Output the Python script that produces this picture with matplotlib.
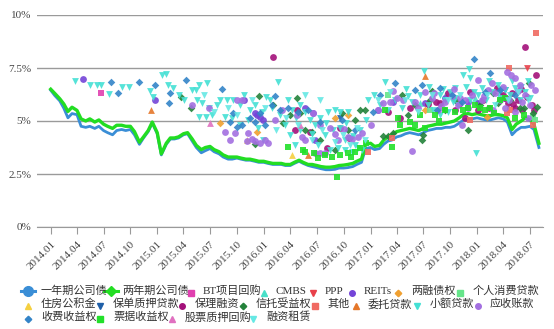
import matplotlib.pyplot as plt
from matplotlib.lines import Line2D
import pandas as pd

plt.rcParams['font.family'] = ['Liberation Serif', 'Noto Sans CJK SC']

# 公司债收益率 (%), 每半月一个值
bond_dates = pd.date_range('2014-01-01', periods=111, freq='SMS')
bond_1y = [
    6.45, 6.2, 5.95, 5.6, 5.15, 5.35, 5.3, 4.75, 4.7, 4.75, 4.65, 4.75,
    4.55, 4.45, 4.35, 4.55, 4.6, 4.55, 4.6, 4.35, 3.9, 4.2, 4.5, 4.9,
    4.4, 3.4, 3.9, 4.15, 4.15, 4.2, 4.35, 4.4, 4.05, 3.75, 3.5, 3.6,
    3.7, 3.55, 3.45, 3.3, 3.2, 3.2, 3.25, 3.2, 3.15, 3.15, 3.1, 3.05,
    3.05, 3.0, 2.95, 2.95, 2.95, 2.9, 2.9, 3.0, 3.1, 3.0, 2.9, 2.85,
    2.8, 2.75, 2.7, 2.7, 2.72, 2.78, 2.78, 2.8, 2.85, 2.95, 3.05, 3.7,
    3.75, 3.65, 3.7, 3.9, 4.05, 4.1, 4.25, 4.3, 4.4, 4.45, 4.4, 4.35,
    4.45, 4.55, 4.6, 4.65, 4.65, 4.7, 4.7, 4.75, 4.9, 5.05, 5.1, 5.1,
    5.15, 5.1, 5.05, 5.05, 5.1, 5.15, 5.1, 4.95, 4.35, 4.55, 4.7, 4.7,
    4.75, 4.6, 3.75,
]
bond_2y = [
    6.5, 6.3, 6.05, 5.8, 5.45, 5.65, 5.5, 5.1, 5.0, 5.1, 4.95, 5.05,
    4.85, 4.75, 4.65, 4.8, 4.8, 4.75, 4.75, 4.5, 4.0, 4.25, 4.55, 4.95,
    4.45, 3.45, 3.95, 4.2, 4.2, 4.25, 4.4, 4.45, 4.15, 3.85, 3.65, 3.75,
    3.8, 3.65, 3.55, 3.4, 3.3, 3.3, 3.3, 3.25, 3.2, 3.2, 3.15, 3.1,
    3.1, 3.05, 3.0, 3.0, 3.0, 2.95, 2.95, 3.05, 3.15, 3.05, 2.95, 2.95,
    2.9, 2.85, 2.82, 2.82, 2.85, 2.9, 2.92, 2.95, 3.0, 3.1, 3.2, 3.9,
    3.95, 3.8, 3.85, 4.1, 4.25, 4.35, 4.5, 4.55, 4.6, 4.65, 4.6, 4.55,
    4.65, 4.75, 4.8, 4.85, 4.85, 4.9, 4.95, 5.0, 5.15, 5.3, 5.35, 5.3,
    5.35, 5.3, 5.25, 5.25, 5.3, 5.3, 5.25, 5.15, 4.6, 4.85, 5.0, 5.15,
    5.05, 4.85, 3.95,
]

# 横轴刻度 (每季度)
tick_dates = pd.date_range('2014-01-01', '2018-07-01', freq='QS')
tick_labels = [d.strftime('%Y.%m') for d in tick_dates]

# 各类ABS发行利率 (发行日, %)
bt_repo = [('2014-06-24', 6.32)]
cmbs = [('2017-06-19', 5.85), ('2017-09-13', 6.23), ('2017-12-25', 6.08),
        ('2018-03-20', 6.37)]
ppp = [('2018-06-21', 7.50)]
reits = [
    ('2014-04-23', 6.98), ('2014-12-25', 5.99), ('2015-10-27', 5.99),
    ('2015-12-08', 5.28), ('2015-12-18', 5.19), ('2015-12-01', 5.38),
    ('2015-12-29', 5.05), ('2016-06-17', 5.38), ('2016-05-20', 5.61),
    ('2016-06-24', 4.10), ('2017-01-25', 5.52), ('2017-03-20', 5.90),
    ('2017-07-06', 5.85), ('2017-09-13', 6.08), ('2017-12-01', 5.90),
    ('2018-01-05', 5.85), ('2018-04-10', 6.08),
]
margin_debt = [
    ('2015-08-03', 4.91), ('2015-12-08', 4.48), ('2016-10-15', 5.28),
    ('2016-09-01', 5.14), ('2017-07-06', 5.52), ('2018-02-05', 5.19),
]
consumer_loan = [('2017-03-01', 6.23), ('2017-07-23', 5.52),
                 ('2018-07-11', 5.19), ('2018-07-18', 5.05)]
housing_fund = [('2015-11-04', 4.10), ('2016-04-06', 3.40)]
policy_loan = [('2016-09-18', 5.14), ('2018-04-06', 6.46)]
factoring = [
    ('2016-02-01', 8.02), ('2016-04-23', 5.52), ('2016-06-07', 4.48),
    ('2016-08-04', 3.73), ('2016-04-16', 4.58), ('2016-09-18', 4.67),
    ('2016-10-20', 4.20), ('2017-03-01', 5.42), ('2017-04-11', 5.14),
    ('2017-05-15', 5.61), ('2017-07-16', 5.80), ('2017-08-15', 5.90),
    ('2017-08-27', 5.85), ('2017-09-25', 6.30), ('2017-10-18', 5.52),
    ('2017-11-01', 5.80), ('2017-11-21', 5.14), ('2017-12-08', 6.37),
    ('2018-01-05', 5.52), ('2018-01-20', 6.00), ('2018-02-10', 5.60),
    ('2018-03-10', 6.56), ('2018-03-30', 6.23), ('2018-04-05', 6.10),
    ('2018-04-17', 5.85), ('2018-05-01', 6.32), ('2018-05-05', 5.80),
    ('2018-05-21', 5.99), ('2018-06-01', 6.50), ('2018-06-04', 5.52),
    ('2018-06-21', 6.13), ('2018-07-08', 5.75), ('2018-07-15', 5.50),
    ('2018-07-22', 7.17), ('2018-06-14', 8.49), ('2018-05-11', 5.61),
]
trust = [
    ('2015-04-28', 5.61), ('2015-03-25', 6.13), ('2015-12-01', 3.92),
    ('2015-12-15', 6.18), ('2016-02-01', 5.75), ('2016-04-23', 6.08),
    ('2016-03-30', 5.28), ('2016-05-03', 5.38), ('2016-05-23', 4.58),
    ('2016-06-14', 4.48), ('2016-07-11', 4.10), ('2016-09-01', 3.63),
    ('2016-09-25', 5.38), ('2016-10-15', 4.58), ('2016-11-08', 5.05),
    ('2016-11-26', 5.52), ('2016-12-13', 5.52), ('2017-02-11', 4.29),
    ('2017-03-03', 4.29), ('2017-03-20', 4.43), ('2017-04-18', 6.23),
    ('2017-05-10', 5.30), ('2017-06-02', 5.75), ('2017-06-26', 4.10),
    ('2017-06-29', 4.34), ('2017-07-23', 5.99), ('2017-08-01', 6.40),
    ('2017-09-13', 5.52), ('2017-10-18', 5.99), ('2017-12-01', 4.58),
    ('2018-01-12', 5.75), ('2018-02-25', 6.30), ('2018-03-14', 5.85),
    ('2018-04-24', 5.99), ('2018-05-28', 5.61), ('2018-06-10', 5.60),
    ('2018-06-27', 6.79), ('2018-07-25', 5.66), ('2018-07-11', 5.38),
    ('2016-03-06', 4.91),
]
others = [
    ('2016-12-24', 3.54), ('2017-03-15', 4.20), ('2018-04-20', 7.50),
    ('2018-07-22', 9.15), ('2018-04-14', 5.38), ('2018-04-24', 5.52),
    ('2018-07-11', 4.81), ('2017-12-08', 5.05),
]
entrusted_loan = [('2014-12-09', 5.52), ('2016-06-01', 3.40),
                  ('2017-07-06', 7.12)]
micro_loan = [
    ('2014-03-26', 6.89), ('2014-05-17', 6.70), ('2014-06-10', 6.70),
    ('2014-06-24', 6.70), ('2014-07-21', 6.27), ('2014-09-01', 6.60),
    ('2014-09-26', 6.60), ('2014-12-06', 6.42), ('2014-12-16', 6.13),
    ('2015-01-17', 7.17), ('2015-01-31', 7.22), ('2015-02-07', 6.70),
    ('2015-02-24', 6.56), ('2015-03-18', 6.23), ('2015-04-04', 5.99),
    ('2015-05-01', 6.46), ('2015-05-15', 6.46), ('2015-05-25', 6.70),
    ('2015-06-22', 6.79), ('2015-05-18', 5.99), ('2015-06-04', 5.85),
    ('2015-05-25', 5.19), ('2015-06-18', 5.19), ('2015-07-09', 5.28),
    ('2015-06-29', 5.61), ('2015-07-26', 5.75), ('2015-08-03', 5.99),
    ('2015-08-27', 5.99), ('2015-09-16', 5.99), ('2015-08-20', 5.19),
    ('2015-09-13', 5.14), ('2015-10-10', 5.75), ('2015-10-27', 6.23),
    ('2015-11-14', 5.52), ('2015-12-01', 5.75), ('2015-12-25', 5.42),
    ('2016-01-08', 6.13), ('2016-01-22', 5.99), ('2016-02-18', 6.84),
    ('2015-10-10', 4.81), ('2015-11-07', 5.05), ('2015-12-11', 4.67),
    ('2015-12-29', 4.10), ('2016-01-29', 5.61), ('2016-02-25', 5.28),
    ('2016-03-13', 4.81), ('2016-03-23', 5.99), ('2016-04-06', 5.52),
    ('2016-04-20', 5.14), ('2016-05-03', 5.75), ('2016-05-20', 5.42),
    ('2016-05-03', 4.58), ('2016-06-07', 5.05), ('2016-06-24', 4.81),
    ('2016-06-15', 4.40), ('2016-07-11', 5.14), ('2016-08-01', 4.90),
    ('2016-08-08', 5.42), ('2016-09-01', 5.52), ('2016-09-18', 5.42),
    ('2016-10-10', 4.90), ('2016-10-15', 5.42), ('2016-07-28', 4.34),
    ('2016-08-25', 4.58), ('2016-09-18', 4.67), ('2016-10-05', 4.10),
    ('2016-10-22', 4.20), ('2016-11-01', 4.30), ('2016-11-08', 3.87),
    ('2016-11-26', 4.58), ('2016-12-03', 3.63), ('2016-07-04', 3.87),
    ('2016-08-15', 3.63), ('2016-09-11', 3.73), ('2016-10-05', 3.63),
    ('2016-10-29', 3.54), ('2016-11-19', 3.73), ('2016-03-30', 4.34),
    ('2016-04-16', 3.87), ('2016-12-17', 5.05), ('2016-12-24', 5.99),
    ('2017-01-14', 6.23), ('2017-02-18', 6.84), ('2017-02-04', 5.75),
    ('2017-03-03', 5.52), ('2017-03-25', 5.99), ('2017-04-18', 5.61),
    ('2017-05-01', 6.50), ('2017-05-08', 6.18), ('2017-05-22', 5.90),
    ('2017-06-19', 6.23), ('2017-07-02', 7.36), ('2017-07-16', 5.75),
    ('2017-07-20', 6.60), ('2017-08-03', 5.52), ('2017-08-27', 6.23),
    ('2017-09-05', 6.50), ('2017-09-13', 5.99), ('2017-10-01', 6.37),
    ('2017-10-10', 5.90), ('2017-10-18', 6.08), ('2017-10-28', 5.75),
    ('2017-11-14', 7.17), ('2017-11-25', 6.60), ('2017-12-05', 7.45),
    ('2017-12-08', 5.99), ('2017-12-22', 6.37), ('2017-08-27', 5.28),
    ('2017-09-24', 5.42), ('2018-01-05', 6.23), ('2018-01-19', 6.56),
    ('2018-02-02', 5.99), ('2018-02-10', 6.90), ('2018-02-22', 6.37),
    ('2018-03-14', 6.70), ('2018-03-20', 6.08), ('2018-03-25', 6.50),
    ('2018-04-06', 6.46), ('2018-04-24', 6.23), ('2018-05-01', 6.90),
    ('2018-05-11', 6.56), ('2018-05-28', 5.99), ('2018-06-01', 6.60),
    ('2018-06-14', 6.37), ('2018-06-25', 6.90), ('2018-07-01', 6.08),
    ('2017-12-29', 3.49), ('2017-12-08', 7.03), ('2017-10-18', 6.56),
]
receivables = [
    ('2015-08-20', 4.48), ('2015-09-06', 4.10), ('2015-09-23', 4.43),
    ('2015-09-30', 5.99), ('2015-10-20', 5.99), ('2015-11-07', 4.43),
    ('2015-11-04', 4.06), ('2015-11-21', 4.15), ('2015-12-01', 4.06),
    ('2015-12-18', 3.96), ('2016-01-04', 4.10), ('2016-01-15', 3.96),
    ('2015-05-01', 5.75), ('2015-06-29', 5.61), ('2016-02-08', 5.05),
    ('2016-03-03', 5.52), ('2016-05-10', 4.25), ('2016-04-23', 5.28),
    ('2016-06-17', 5.38), ('2016-06-24', 3.49), ('2016-07-11', 3.49),
    ('2016-07-28', 3.49), ('2016-09-01', 4.40), ('2016-10-01', 4.60),
    ('2016-10-15', 4.25), ('2016-10-29', 4.15), ('2016-11-19', 4.25),
    ('2016-12-03', 4.43), ('2016-07-11', 4.81), ('2016-08-15', 4.67),
    ('2016-09-11', 4.10), ('2016-05-20', 4.10), ('2017-01-01', 4.81),
    ('2017-01-25', 5.52), ('2017-02-14', 5.85), ('2017-03-08', 5.90),
    ('2017-03-20', 6.40), ('2017-04-01', 6.08), ('2017-04-21', 5.99),
    ('2017-05-22', 3.58), ('2017-06-01', 5.90), ('2017-06-12', 5.61),
    ('2017-07-06', 6.37), ('2017-07-30', 6.08), ('2017-08-05', 6.30),
    ('2017-08-20', 5.52), ('2017-09-01', 5.70), ('2017-09-13', 5.90),
    ('2017-10-08', 6.18), ('2017-10-15', 6.50), ('2017-10-28', 5.75),
    ('2017-11-05', 6.10), ('2017-11-21', 5.99), ('2017-12-01', 5.60),
    ('2017-12-15', 6.23), ('2017-11-11', 4.81), ('2018-01-05', 6.93),
    ('2018-01-19', 5.99), ('2018-01-25', 6.20), ('2018-02-09', 6.46),
    ('2018-02-20', 6.80), ('2018-02-25', 5.52), ('2018-03-05', 6.30),
    ('2018-03-20', 5.99), ('2018-04-01', 6.60), ('2018-04-14', 7.31),
    ('2018-04-20', 6.00), ('2018-04-27', 7.17), ('2018-05-11', 7.03),
    ('2018-05-20', 6.40), ('2018-05-28', 6.70), ('2018-06-05', 5.90),
    ('2018-06-14', 6.23), ('2018-07-01', 5.75), ('2018-07-05', 6.70),
    ('2018-07-18', 6.46), ('2018-04-06', 5.61), ('2018-05-11', 5.42),
    ('2018-06-24', 5.14),
]
toll_rights = [
    ('2014-07-28', 6.84), ('2014-08-18', 6.32), ('2014-10-30', 6.84),
    ('2014-12-25', 6.70), ('2015-02-14', 6.32), ('2015-02-11', 5.85),
    ('2015-04-11', 6.93), ('2015-08-10', 6.51), ('2015-09-06', 4.95),
    ('2015-09-16', 5.38), ('2015-09-30', 4.72), ('2015-10-17', 4.81),
    ('2015-11-14', 5.14), ('2015-12-01', 4.95), ('2015-12-18', 5.38),
    ('2016-01-04', 4.81), ('2016-01-29', 5.75), ('2016-02-25', 5.52),
    ('2016-03-23', 5.61), ('2016-04-27', 5.42), ('2016-02-08', 6.18),
    ('2016-05-30', 5.52), ('2016-07-11', 4.95), ('2016-09-25', 5.05),
    ('2016-11-08', 4.58), ('2017-01-08', 5.42), ('2017-03-25', 6.79),
    ('2017-02-04', 6.23), ('2017-06-02', 6.46), ('2017-06-26', 6.70),
    ('2017-08-27', 6.56), ('2017-10-08', 6.23), ('2017-12-22', 7.92),
    ('2018-02-15', 7.26), ('2018-01-29', 6.37), ('2018-03-20', 6.46),
    ('2018-05-11', 6.23), ('2017-08-17', 5.52), ('2017-11-11', 5.90),
]
bill_rights = [
    ('2016-03-23', 3.77), ('2016-05-13', 3.63), ('2016-05-20', 3.54),
    ('2016-06-20', 3.50), ('2016-07-04', 3.25), ('2016-07-28', 3.40),
    ('2016-08-21', 3.30), ('2016-09-08', 2.36), ('2016-09-18', 3.40),
    ('2016-10-15', 3.49), ('2016-10-25', 3.30), ('2016-11-08', 3.54),
    ('2016-11-26', 3.73), ('2016-12-17', 3.96), ('2017-02-21', 5.52),
    ('2017-03-15', 3.77), ('2017-04-11', 4.81), ('2017-05-15', 4.95),
    ('2017-06-20', 5.30), ('2017-07-06', 4.67), ('2017-08-10', 5.28),
    ('2017-08-25', 5.00), ('2017-09-13', 5.52), ('2017-10-18', 5.42),
    ('2017-11-15', 5.50), ('2017-12-01', 5.61), ('2017-12-25', 5.75),
    ('2018-01-12', 5.61), ('2018-01-29', 5.52), ('2018-02-15', 5.61),
    ('2018-03-01', 5.40), ('2018-03-20', 5.99), ('2018-04-06', 6.08),
    ('2018-05-11', 5.14), ('2018-06-10', 5.30), ('2017-04-04', 5.14),
    ('2017-06-02', 4.81),
]
stock_pledge = [('2015-07-01', 4.91), ('2016-05-03', 4.81)]
leasing = [
    ('2015-06-11', 6.23), ('2015-07-16', 5.42), ('2015-08-30', 5.61),
    ('2015-10-03', 5.28), ('2015-11-21', 5.99), ('2016-01-04', 5.61),
    ('2016-02-11', 4.58), ('2016-03-16', 5.14), ('2016-04-27', 4.81),
    ('2016-06-14', 4.10), ('2016-07-18', 4.58), ('2016-09-01', 4.01),
    ('2016-09-28', 4.34), ('2016-10-22', 3.87), ('2016-11-15', 4.67),
    ('2016-12-13', 4.10), ('2017-01-28', 5.99), ('2017-03-08', 6.37),
    ('2017-04-28', 5.99), ('2017-06-12', 5.42), ('2017-07-30', 6.23),
    ('2017-09-24', 5.99), ('2017-11-04', 6.23), ('2018-02-05', 6.23),
    ('2018-03-03', 5.75), ('2018-04-17', 5.99), ('2018-05-21', 6.37),
    ('2018-06-24', 5.99), ('2016-05-20', 6.23), ('2016-07-11', 5.99),
]

scatter_series = [
    ('BT项目回购', bt_repo, 's', '#e040b0'),
    ('CMBS', cmbs, '^', '#48e0c8'),
    ('PPP', ppp, 'v', '#e8404a'),
    ('REITs', reits, 'o', '#7444d8'),
    ('两融债权', margin_debt, 'D', '#f0a030'),
    ('个人消费贷款', consumer_loan, 's', '#66e58a'),
    ('住房公积金', housing_fund, '^', '#f5d040'),
    ('保单质押贷款', policy_loan, 'v', '#1f5fa8'),
    ('保理融资', factoring, 'o', '#a3107a'),
    ('信托受益权', trust, 'D', '#23823a'),
    ('其他', others, 's', '#f06a62'),
    ('委托贷款', entrusted_loan, '^', '#e5772a'),
    ('小额贷款', micro_loan, 'v', '#44e0d4'),
    ('应收账款', receivables, 'o', '#a36fe0'),
    ('收费收益权', toll_rights, 'D', '#3384c8'),
    ('票据收益权', bill_rights, 's', '#22e02a'),
    ('股票质押回购', stock_pledge, '^', '#e070c0'),
    ('融资租赁', leasing, 'v', '#66e8e4'),
]
marker_size = {'o': 24, 's': 22, 'D': 15, '^': 24, 'v': 24}

W, H = 554, 329
fig = plt.figure(figsize=(W / 100, H / 100), dpi=100)
ax = fig.add_axes([37 / W, 1 - 227 / H, 506 / W, 212 / H])

ax.plot(bond_dates, bond_1y, color='#3a8ed6', lw=2, zorder=2)
ax.plot(bond_dates, bond_2y, color='#22dd22', lw=2.4, zorder=3)

for name, pts, mk, col in scatter_series:
    d = pd.to_datetime([p[0] for p in pts])
    v = [p[1] for p in pts]
    ax.scatter(d, v, marker=mk, s=marker_size[mk], color=col,
               alpha=0.9, linewidths=0, zorder=4)

ax.set_ylim(0, 10)
ax.set_yticks([0, 2.5, 5, 7.5, 10])
ax.set_yticklabels(['0%', '2.5%', '5%', '7.5%', '10%'])
ax.set_xlim(pd.Timestamp('2013-11-15'), pd.Timestamp('2018-08-15'))
ax.set_xticks(tick_dates, tick_labels, rotation=45, ha='right',
              va='top', rotation_mode='anchor')

ax.grid(axis='y', color='#9a9a9a', lw=1)
ax.set_axisbelow(True)
for s in ['top', 'right', 'left']:
    ax.spines[s].set_visible(False)
ax.spines['bottom'].set_color('#9a9a9a')
ax.tick_params(axis='y', length=0, pad=4, labelsize=8, labelcolor='#444')
ax.tick_params(axis='x', length=5, color='#9a9a9a', pad=4,
               labelsize=8, labelcolor='#444')

# legend laid out in three flowing rows below the axis
legend_rows = [
    (291, [('一年期公司债', 28, 41), ('两年期公司债', 111, 122),
           ('BT项目回购', 191, 203), ('CMBS', 264, 276), ('PPP', 313, 325),
           ('REITs', 352, 364), ('两融债权', 398, 411),
           ('个人消费贷款', 460, 473)]),
    (304, [('住房公积金', 28, 41), ('保单质押贷款', 100, 113),
           ('保理融资', 182, 195), ('信托受益权', 243, 256), ('其他', 315, 327),
           ('委托贷款', 356, 368), ('小额贷款', 417, 430),
           ('应收账款', 478, 490)]),
    (317, [('收费收益权', 28, 41), ('票据收益权', 100, 113),
           ('股票质押回购', 172, 185), ('融资租赁', 253, 266)]),
]
line_style = {'一年期公司债': ('#3a8ed6', 'o', 7),
              '两年期公司债': ('#22dd22', 'D', 5)}
mk_style = {name: (mk, col) for name, _, mk, col in scatter_series}

for py, items in legend_rows:
    fy = 1 - py / H
    for name, mx, tx in items:
        if name in line_style:
            col, mk, ms = line_style[name]
            fig.add_artist(Line2D([(mx - 7) / W, (mx + 7) / W], [fy, fy],
                                  color=col, lw=2.2, transform=fig.transFigure))
            fig.add_artist(Line2D([mx / W], [fy], marker=mk, ms=ms, color=col,
                                  transform=fig.transFigure))
        else:
            mk, col = mk_style[name]
            fig.add_artist(Line2D([mx / W], [fy - 2 / H], marker=mk,
                                  ms=4 if mk != 'D' else 3.3, color=col, lw=0,
                                  transform=fig.transFigure))
        fig.text(tx / W, fy, name, fontsize=8, color='#333',
                 ha='left', va='center')

fig.savefig('out.png', dpi=100)
